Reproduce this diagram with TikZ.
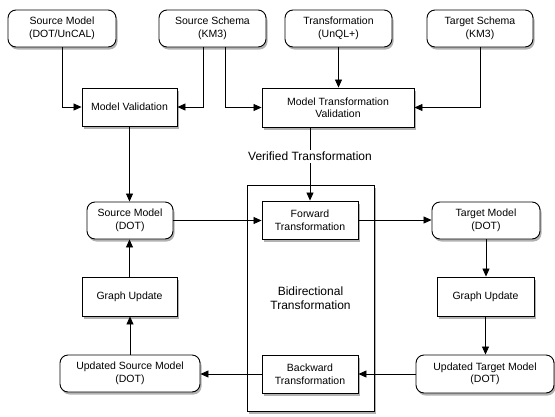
\documentclass[tikz,border=0pt]{standalone}
\usepackage{fontspec}
\setmainfont{Liberation Sans}
\usetikzlibrary{shadows,arrows.meta}
\begin{document}
\begin{tikzpicture}[x=1pt,y=-1pt,
  every node/.style={font=\fontsize{10.5}{12.5}\selectfont, align=center, inner sep=0pt},
  shad/.style={drop shadow={shadow xshift=1.5pt, shadow yshift=-2.5pt, fill=black, opacity=0.3}},
  rbox/.style={draw, line width=0.9pt, rounded corners=8pt, fill=white, shad},
  sbox/.style={draw, line width=0.9pt, fill=white, shad},
  bigbox/.style={draw, line width=0.9pt, fill=white, shad},
  conn/.style={line width=0.8pt, -{Triangle[length=8pt,width=7pt]}},
  biglabel/.style={font=\fontsize{12}{14}\selectfont}
]
\useasboundingbox (0,0) rectangle (555,416);
% top row
\node[rbox, minimum width=108pt, minimum height=37pt] (sm0) at (62,28.5) {Source Model\\(DOT/UnCAL)};
\node[rbox, minimum width=107pt, minimum height=37pt] (ss) at (212.5,28.5) {Source Schema\\(KM3)};
\node[rbox, minimum width=107pt, minimum height=37pt] (tr) at (338.5,28.5) {Transformation\\(UnQL+)};
\node[rbox, minimum width=106pt, minimum height=37pt] (ts) at (480,28.5) {Target Schema\\(KM3)};
% validation
\node[sbox, minimum width=95pt, minimum height=38pt] (mv) at (129.5,107) {Model Validation};
\node[sbox, minimum width=152pt, minimum height=39pt] (mtv) at (338,107.5) {Model Transformation\\Validation};
% bidirectional
\node[bigbox, minimum width=127pt, minimum height=226pt] (big) at (310.5,298) {};
\node[biglabel] (bl) at (310.5,298) {Bidirectional\\Transformation};
\node[sbox, minimum width=96pt, minimum height=38pt] (fw) at (310,220) {Forward\\Transformation};
\node[sbox, minimum width=96pt, minimum height=38pt] (bw) at (310,374) {Backward\\Transformation};
% models
\node[rbox, minimum width=86pt, minimum height=37pt] (smd) at (130,220.5) {Source Model\\(DOT)};
\node[rbox, minimum width=108pt, minimum height=37pt] (tmd) at (486,220.5) {Target Model\\(DOT)};
\node[sbox, minimum width=95pt, minimum height=39pt] (gu1) at (129.5,296.5) {Graph Update};
\node[sbox, minimum width=97pt, minimum height=39pt] (gu2) at (485.5,296.5) {Graph Update};
\node[rbox, minimum width=140pt, minimum height=37pt] (usm) at (130,373.5) {Updated Source Model\\(DOT)};
\node[rbox, minimum width=138pt, minimum height=38pt] (utm) at (485,374) {Updated Target Model\\(DOT)};
% connectors
\draw[conn] (sm0.south) |- (mv.west);
\draw[conn] ([xshift=-9.5pt]ss.south) |- (mv.east);
\draw[conn] ([xshift=12.5pt]ss.south) |- (mtv.west);
\draw[conn] (tr.south) -- (tr.south |- mtv.north);
\draw[conn] (ts.south) |- (mtv.east);
\draw[conn] (mv.south) -- (mv.south |- smd.north);
\draw[conn] (fw.north |- mtv.south) -- node[fill=white, biglabel, inner ysep=2pt, pos=0.4] (vt) {Verified Transformation} (fw.north);
\draw[conn] (smd.east) -- (smd.east -| fw.west);
\draw[conn] (fw.east) -- (fw.east -| tmd.west);
\draw[conn] (tmd.south) -- (tmd.south |- gu2.north);
\draw[conn] (gu2.south) -- (gu2.south |- utm.north);
\draw[conn] (utm.west) -- (utm.west -| bw.east);
\draw[conn] (bw.west) -- (bw.west -| usm.east);
\draw[conn] (usm.north) -- (usm.north |- gu1.south);
\draw[conn] (gu1.north) -- (gu1.north |- smd.south);
\end{tikzpicture}
\end{document}
